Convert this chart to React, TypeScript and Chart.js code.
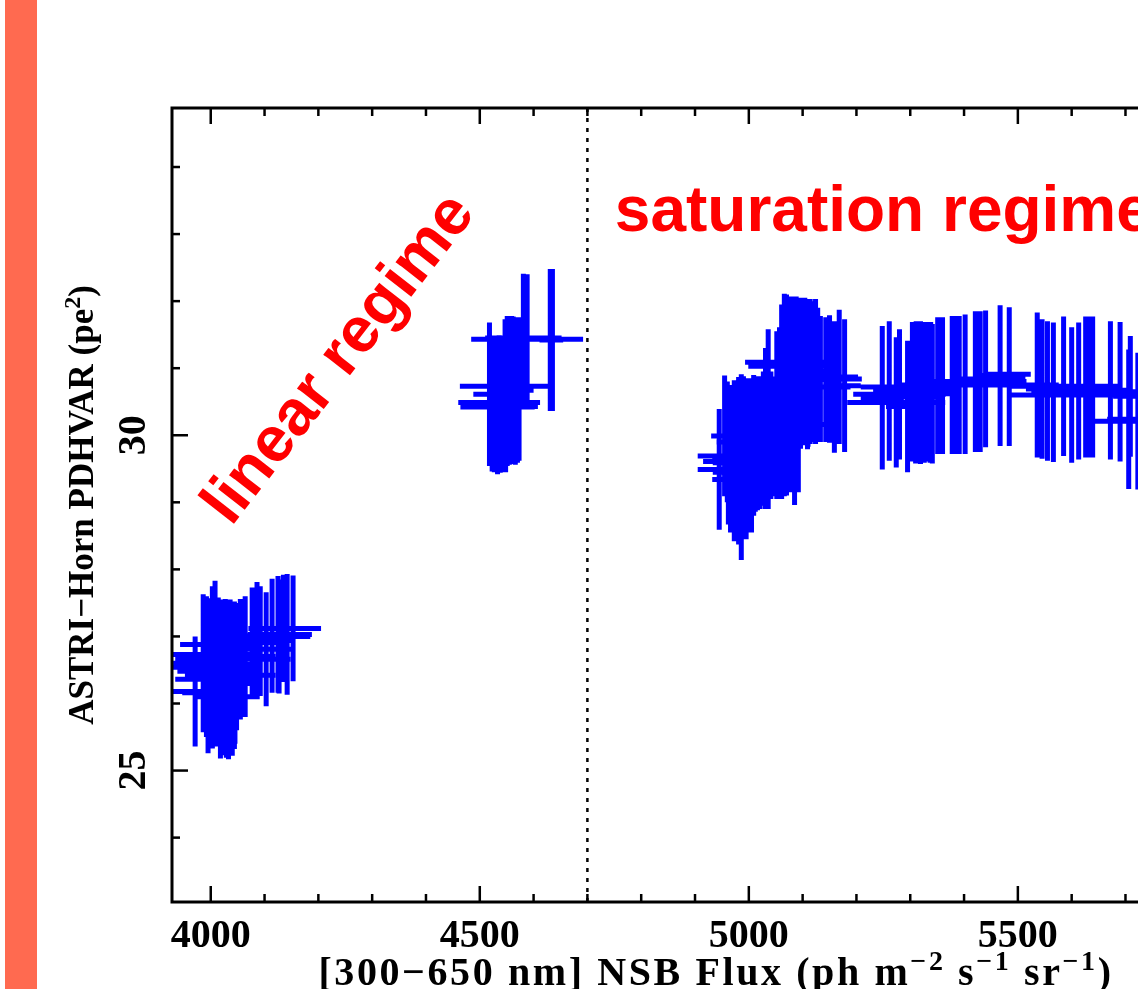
import React, { useEffect, useRef } from "react";
import { Chart, registerables } from "chart.js";

Chart.register(...registerables);

// ---- axis ranges and ticks ----
const X_MIN = 3928;
const X_MAX = 5950;
const Y_MIN = 23.04;
const Y_MAX = 34.88;
const xMajorTicks = [4000, 4500, 5000, 5500];
const xMinorTicks = [4100, 4200, 4300, 4400, 4600, 4700, 4800, 4900, 5100, 5200, 5300, 5400, 5600, 5700, 5800, 5900];
const yMajorTicks = [25, 30];
const yMinorTicks = [24, 26, 27, 28, 29, 31, 32, 33, 34];
const regimeBoundary = 4700;

// ---- linear regime: NSB flux, PDHVAR and their errors ----
const linFlux = [3971, 3986, 4003, 4014, 4021, 4029, 4036, 4055, 4064, 4077, 4086, 4092, 4114, 4125, 4142, 4153, 4008, 3995, 4029, 4014, 4010, 4027, 4103, 4008, 4127, 4135, 4025, 4033, 4040, 4045,
  3998, 4018, 4033, 4040, 4044, 4048, 3992,
  4518, 4523, 4531, 4538, 4544, 4551, 4559, 4566, 4573, 4581, 4588, 4631, 4635, 4547, 4536, 4533,
  4527, 4541, 4548, 4555, 4562, 4570];
const linVar = [26.18, 26.60, 26.54, 26.58, 26.40, 26.37, 26.42, 26.66, 26.70, 26.91, 26.94, 26.93, 27.01, 27.03, 27.03, 27.12, 26.73, 26.16, 26.10, 26.48, 26.36, 26.66, 26.81, 26.88, 27.00, 27.12, 26.38, 26.35, 26.40, 26.45,
  26.45, 26.35, 26.40, 26.30, 26.42, 26.55, 26.55,
  30.61, 30.45, 30.46, 30.43, 30.46, 30.66, 30.69, 30.66, 30.69, 31.45, 31.43, 31.42, 31.42, 30.73, 30.49, 30.42,
  30.45, 30.47, 30.50, 30.66, 30.67, 30.67];
const linFluxErr = [43, 56, 74, 74, 65, 56, 84, 93, 56, 56, 65, 46, 65, 56, 46, 52, 85, 48, 62, 76, 76, 93, 49, 65, 58, 65, 40, 35, 30, 30,
  30, 30, 30, 40, 35, 45, 40,
  30, 56, 60, 70, 50, 20, 20, 20, 20, 71, 104, 20, 20, 84, 76, 69,
  40, 40, 30, 30, 30, 30];
const linVarErr = [0.82, 1.03, 1.21, 1.00, 1.15, 1.18, 1.13, 0.90, 0.90, 0.82, 0.87, 0.82, 0.85, 0.87, 0.90, 0.79, 1.05, 0.90, 0.90, 1.10, 1.00, 0.90, 0.85, 0.95, 0.85, 0.80, 1.15, 1.18, 1.12, 1.05,
  1.12, 1.17, 1.15, 1.08, 1.10, 0.95, 1.05,
  1.07, 0.99, 1.00, 0.99, 1.01, 1.12, 1.09, 1.10, 1.07, 0.96, 0.97, 1.06, 1.06, 1.00, 1.00, 1.00,
  1.00, 1.00, 1.05, 1.10, 1.10, 1.08];

// ---- saturation regime ----
const satFlux = [4962, 4977, 4986, 4986, 4990, 5012, 5021, 5036, 5047, 5057, 5066, 5077, 5088, 5109, 5114, 5124, 5133, 5143, 5159, 5178, 5079, 5075, 5085, 4955, 4960, 4945, 4986, 5168, 5248, 5248, 5261, 5280, 5274, 5295, 5304, 5311, 5319, 5326, 5334, 5341, 5351, 5360, 5378, 5382, 5386, 5402, 5421, 5430, 5467, 5484, 5484, 5536, 5545, 5555, 5566, 5585, 5600, 5613, 5626, 5633, 5639, 5672, 5690, 5706, 5709, 5723, 5338, 5319, 5760, 5790, 5820,
  4981, 4995, 5005, 5016, 5070, 5082, 5092, 5096, 5100, 5119, 5308, 5315, 5322, 5330, 5337, 5391, 5425, 5629, 5636, 5150, 5310, 5440,
  4966, 4973, 5000, 5009, 5027, 5031, 5041, 5052, 5061, 5104, 5110, 5128];
const satVar = [29.68, 29.61, 29.59, 29.45, 29.69, 29.87, 29.89, 30.24, 29.98, 30.35, 30.60, 30.61, 30.61, 30.84, 30.95, 30.95, 30.84, 30.83, 30.72, 30.74, 31.09, 31.03, 30.16, 29.99, 29.90, 29.49, 29.34, 30.87, 30.72, 30.56, 30.66, 30.61, 30.49, 30.43, 30.65, 30.65, 30.66, 30.64, 30.65, 30.62, 30.74, 30.74, 30.75, 30.75, 30.75, 30.76, 30.80, 30.80, 30.89, 30.86, 30.91, 30.75, 30.69, 30.66, 30.64, 30.73, 30.60, 30.66, 30.72, 30.72, 30.72, 30.67, 30.65, 30.24, 30.58, 30.21, 30.69, 30.57, 30.55, 30.60, 30.50,
  29.62, 29.65, 29.70, 29.88, 30.60, 30.62, 30.60, 30.90, 30.95, 30.95, 30.65, 30.65, 30.64, 30.65, 30.63, 30.75, 30.80, 30.72, 30.72, 30.84, 30.60, 30.84,
  29.65, 29.62, 29.70, 29.85, 29.95, 30.10, 30.00, 30.30, 30.50, 30.95, 30.93, 30.90];
const satFluxErr = [30, 62, 53, 53, 85, 30, 30, 25, 20, 30, 40, 40, 40, 93, 40, 30, 35, 25, 30, 30, 86, 76, 70, 25, 20, 40, 54, 35, 40, 40, 30, 86, 91, 40, 40, 40, 37, 45, 56, 40, 30, 30, 102, 40, 40, 30, 40, 86, 40, 30, 40, 40, 30, 30, 30, 102, 119, 40, 40, 40, 40, 40, 40, 40, 32, 84, 56, 37, 40, 40, 40,
  30, 40, 40, 30, 30, 30, 30, 40, 40, 30, 40, 40, 40, 40, 40, 40, 40, 40, 40, 60, 50, 60,
  30, 30, 30, 30, 30, 30, 30, 30, 30, 30, 30, 30];
const satVarErr = [1.01, 1.18, 1.32, 1.25, 1.19, 1.01, 0.99, 1.34, 0.89, 1.26, 1.51, 1.46, 1.46, 1.05, 1.08, 1.08, 0.94, 0.93, 0.98, 0.99, 0.90, 0.95, 1.20, 0.90, 0.90, 0.90, 1.20, 1.00, 0.90, 1.07, 1.04, 0.97, 0.97, 0.98, 1.04, 1.05, 1.04, 1.05, 1.04, 1.04, 1.02, 1.02, 1.03, 1.03, 1.03, 1.04, 1.05, 1.05, 1.05, 1.02, 1.00, 1.08, 1.04, 1.04, 1.04, 1.04, 1.01, 1.02, 1.05, 1.05, 1.05, 1.03, 1.04, 1.04, 0.90, 1.02, 1.00, 1.00, 1.0, 1.0, 1.0,
  1.25, 1.20, 1.15, 1.00, 1.50, 1.45, 1.45, 1.10, 1.10, 1.05, 1.04, 1.05, 1.05, 1.04, 1.04, 1.03, 1.05, 1.05, 1.05, 0.95, 1.02, 1.02,
  1.10, 1.20, 1.15, 1.05, 1.00, 1.20, 0.95, 1.25, 1.45, 1.10, 1.10, 1.00];

// ---- texts ----
const xTitleParts: [string, boolean][] = [["[300\u2212650 nm] NSB Flux (ph m", false], ["\u22122", true], [" s", false], ["\u22121", true], [" sr", false], ["\u22121", true], [")", false]];
const yTitleParts: [string, boolean][] = [["ASTRI\u2212Horn PDHVAR (pe", false], ["2", true], [")", false]];
const regimeLabels = ["linear regime", "saturation regime"];
const regimeLabelAnchors = [
  { x: 4240, y: 31.13, angle: -52, align: "center" as CanvasTextAlign, baseline: "middle" as CanvasTextBaseline },
  { x: 4751, y: 33.04, angle: 0, align: "left" as CanvasTextAlign, baseline: "alphabetic" as CanvasTextBaseline },
];

function errorBars(xs: number[], ys: number[], exs: number[], eys: number[]) {
  const pts: { x: number; y: number | null }[] = [];
  xs.forEach((x, i) => {
    const y = ys[i];
    pts.push({ x: x - exs[i], y }, { x: x + exs[i], y }, { x, y: null });
    pts.push({ x, y: y - eys[i] }, { x, y: y + eys[i] }, { x, y: null });
  });
  return pts;
}

const SERIF = "'Liberation Serif', 'Times New Roman', serif";

function drawParts(ctx: any, parts: [string, boolean][], size: number, supSize: number, supRise: number, centerX: number, baseY: number, spacing: number) {
  const fontMain = `bold ${size}px ${SERIF}`;
  const fontSup = `bold ${supSize}px ${SERIF}`;
  ctx.letterSpacing = `${spacing}px`;
  let total = 0;
  parts.forEach(([t, sup]) => {
    ctx.font = sup ? fontSup : fontMain;
    total += ctx.measureText(t).width;
  });
  let x = centerX - total / 2;
  ctx.textAlign = "left";
  ctx.textBaseline = "alphabetic";
  parts.forEach(([t, sup]) => {
    ctx.font = sup ? fontSup : fontMain;
    ctx.fillText(t, x, sup ? baseY - supRise : baseY);
    x += ctx.measureText(t).width;
  });
  ctx.letterSpacing = "0px";
}

const framePlugin = {
  id: "pgFrame",
  afterDatasetsDraw(chart: any) {
    const { ctx, chartArea: a, scales } = chart;
    const xs = scales.x;
    const ys = scales.y;
    ctx.save();
    ctx.strokeStyle = "#000";
    ctx.lineCap = "butt";
    ctx.lineWidth = 3;
    ctx.strokeRect(a.left, a.top, a.right - a.left, a.bottom - a.top);
    ctx.lineWidth = 2.5;
    const seg = (x1: number, y1: number, x2: number, y2: number) => {
      ctx.beginPath();
      ctx.moveTo(x1, y1);
      ctx.lineTo(x2, y2);
      ctx.stroke();
    };
    const xt = (vals: number[], len: number) => vals.forEach((v) => {
      const p = xs.getPixelForValue(v);
      seg(p, a.bottom, p, a.bottom - len);
      seg(p, a.top, p, a.top + len);
    });
    const yt = (vals: number[], len: number) => vals.forEach((v) => {
      const p = ys.getPixelForValue(v);
      seg(a.left, p, a.left + len, p);
      seg(a.right, p, a.right - len, p);
    });
    xt(xMajorTicks, 16);
    xt(xMinorTicks, 8);
    yt(yMajorTicks, 16);
    yt(yMinorTicks, 8);
    ctx.restore();
  },
  afterDraw(chart: any) {
    const { ctx, chartArea: a, scales } = chart;
    ctx.save();
    ctx.fillStyle = "#000";
    // x-axis title
    drawParts(ctx, xTitleParts, 40, 28, 15, (a.left + a.right) / 2, a.bottom + 83, 2.6);
    // y-axis title
    ctx.save();
    ctx.translate(a.left - 79, (a.top + a.bottom) / 2);
    ctx.rotate(-Math.PI / 2);
    drawParts(ctx, yTitleParts, 35, 24, 13, 0, 0, 0);
    ctx.restore();
    // regime labels
    ctx.fillStyle = "#ff0000";
    ctx.font = "bold 64px 'Liberation Sans', Arial, sans-serif";
    regimeLabels.forEach((t, i) => {
      const an = regimeLabelAnchors[i];
      const px = scales.x.getPixelForValue(an.x);
      const py = scales.y.getPixelForValue(an.y);
      ctx.save();
      ctx.translate(px, py);
      ctx.rotate((an.angle * Math.PI) / 180);
      ctx.textAlign = an.align;
      ctx.textBaseline = an.baseline;
      ctx.fillText(t, 0, 0);
      ctx.restore();
    });
    ctx.restore();
  },
};

export default function App() {
  const ref = useRef<HTMLCanvasElement | null>(null);
  useEffect(() => {
    if (!ref.current) return;
    const tickFont = { family: SERIF, weight: "bold" as const, size: 40 };
    const barStyle = {
      showLine: true,
      spanGaps: false,
      borderColor: "#0000ff",
      borderWidth: 5,
      pointRadius: 0,
      pointHoverRadius: 0,
    };
    const chart = new Chart(ref.current, {
      type: "scatter",
      data: {
        datasets: [
          { data: errorBars(linFlux, linVar, linFluxErr, linVarErr) as any, ...barStyle },
          { data: errorBars(satFlux, satVar, satFluxErr, satVarErr) as any, ...barStyle },
          {
            data: [{ x: regimeBoundary, y: Y_MIN }, { x: regimeBoundary, y: Y_MAX }],
            showLine: true,
            borderColor: "#000",
            borderWidth: 2.5,
            borderDash: [4, 6],
            pointRadius: 0,
            pointHoverRadius: 0,
          },
        ],
      },
      options: {
        responsive: false,
        animation: false,
        devicePixelRatio: 1,
        events: [],
        layout: { padding: { left: 0, top: 108, right: 30, bottom: 0 } },
        plugins: { legend: { display: false }, tooltip: { enabled: false } },
        scales: {
          x: {
            type: "linear",
            min: X_MIN,
            max: X_MAX,
            grid: { display: false },
            border: { display: false },
            afterBuildTicks: (s: any) => {
              s.ticks = xMajorTicks.map((v) => ({ value: v }));
            },
            afterFit: (s: any) => {
              s.height = 87;
            },
            ticks: {
              font: tickFont,
              color: "#000",
              padding: 3,
              maxRotation: 0,
              minRotation: 0,
              autoSkip: false,
              callback: (v: any) => String(v),
            },
          },
          y: {
            type: "linear",
            min: Y_MIN,
            max: Y_MAX,
            grid: { display: false },
            border: { display: false },
            afterBuildTicks: (s: any) => {
              s.ticks = yMajorTicks.map((v) => ({ value: v }));
            },
            afterFit: (s: any) => {
              s.width = 172;
            },
            ticks: {
              font: tickFont,
              color: "#000",
              padding: 9,
              minRotation: 90,
              maxRotation: 90,
              crossAlign: "center",
              autoSkip: false,
              callback: (v: any) => String(v),
            },
          },
        },
      },
      plugins: [framePlugin],
    });
    return () => chart.destroy();
  }, []);

  return (
    <div style={{ position: "absolute", left: 0, top: 0, width: 1138, height: 989, overflow: "hidden", background: "#fff" }}>
      <canvas ref={ref} width={1290} height={989} style={{ position: "absolute", left: 0, top: 0, width: 1290, height: 989 }} />
      <div style={{ position: "absolute", left: 5, top: 0, width: 32, height: 989, background: "#ff6a50" }} />
    </div>
  );
}
